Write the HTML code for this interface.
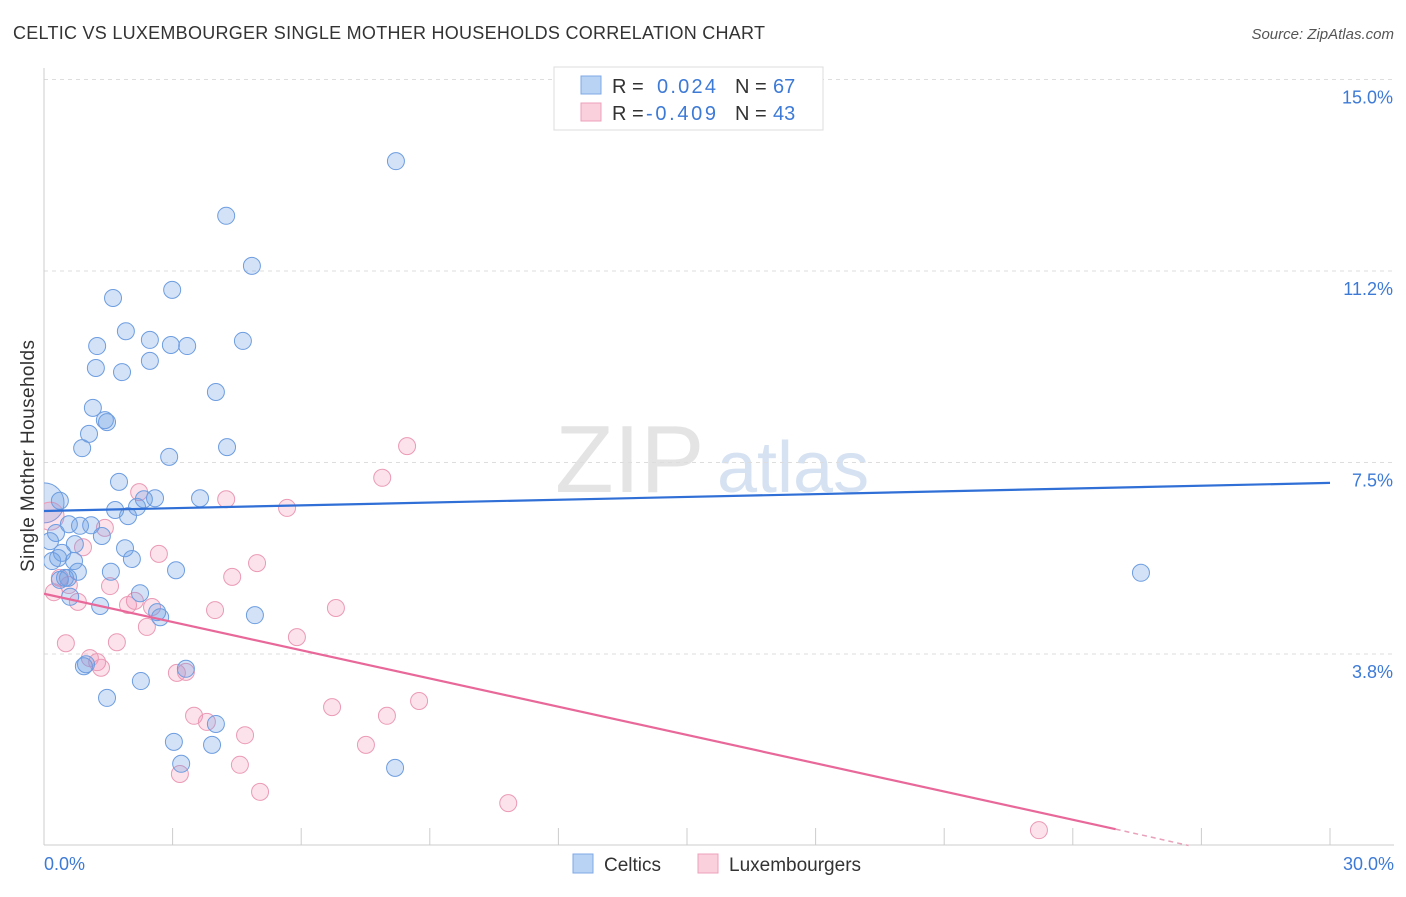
<!DOCTYPE html>
<html><head><meta charset="utf-8"><style>
body{margin:0;background:#fff;font-family:"Liberation Sans",sans-serif;}
svg text{font-family:"Liberation Sans",sans-serif;}
</style></head><body>
<svg id="chart" width="1406" height="892" viewBox="0 0 1406 892" xmlns="http://www.w3.org/2000/svg">
<defs><clipPath id="plotclip"><rect x="44" y="60" width="1360" height="790"/></clipPath></defs>
<text x="13" y="39" font-size="18" fill="#333" textLength="752">CELTIC VS LUXEMBOURGER SINGLE MOTHER HOUSEHOLDS CORRELATION CHART</text>
<text x="1394" y="39" font-size="15" fill="#555" text-anchor="end" font-style="italic">Source: ZipAtlas.com</text>
<g>
<text x="555" y="492" font-size="96" fill="#e4e4e4" font-family="Liberation Serif,serif">ZIP</text>
<text x="717" y="492" font-size="72" fill="#d6e2f2">atlas</text>
</g>
<g id="grid"></g>
<g id="axes"></g>
<g id="marks" clip-path="url(#plotclip)"></g>
<text transform="translate(34,456) rotate(-90)" font-size="19" fill="#333" text-anchor="middle" textLength="232">Single Mother Households</text>
<g>
<rect x="554" y="67" width="269" height="63" fill="#fff" stroke="#ddd"/>
<rect x="581" y="76" width="20" height="18" fill="#b9d3f5" stroke="#7ea8e4"/>
<rect x="581" y="103" width="20" height="18" fill="#fbd0dd" stroke="#eea0ba"/>
<text x="612" y="93" font-size="20" fill="#333">R =</text>
<text x="657" y="93" font-size="20" fill="#3d7ad6" textLength="59">0.024</text>
<text x="735" y="93" font-size="20" fill="#333">N =</text>
<text x="773" y="93" font-size="20" fill="#3d7ad6">67</text>
<text x="612" y="120" font-size="20" fill="#333">R =</text>
<text x="646" y="120" font-size="20" fill="#3d7ad6" textLength="70">-0.409</text>
<text x="735" y="120" font-size="20" fill="#333">N =</text>
<text x="773" y="120" font-size="20" fill="#3d7ad6">43</text>
</g>
<g>
<g><rect x="573" y="854" width="20" height="19" fill="#b9d3f5" stroke="#7ea8e4"/><text x="604" y="871" font-size="19" fill="#333">Celtics</text></g>
<g><rect x="698" y="854" width="20" height="19" fill="#fbd0dd" stroke="#eea0ba"/><text x="729" y="871" font-size="19" fill="#333">Luxembourgers</text></g>
</g>
</svg>
<script>
const yTicks=[3.8,7.5,11.2,15.0];
const yTickValues=[3.75,7.5,11.25,15.0];
const xTickLabels=["0.0%","30.0%"];
const celticX=[8.21,4.25,4.85,1.61,2.99,1.91,1.24,2.47,2.96,3.34,4.64,1.21,1.82,2.47,4.01,1.14,1.42,1.47,1.05,0.89,4.27,2.92,1.75,0.37,2.59,2.33,3.64,2.17,1.66,1.96,0.58,1.10,0.84,1.35,0.28,0.14,0.72,1.89,0.42,0.70,2.05,0.19,0.79,1.56,3.08,0.49,0.56,0.37,2.24,0.61,1.31,2.64,2.71,4.92,0.98,0.93,3.31,2.26,1.47,4.01,3.03,3.92,3.20,8.19,25.59,0.33];
const celticY=[13.40,12.33,11.35,10.72,10.88,10.07,9.78,9.90,9.80,9.78,9.88,9.35,9.27,9.49,8.88,8.57,8.33,8.29,8.06,7.78,7.80,7.61,7.12,6.75,6.80,6.78,6.80,6.63,6.57,6.45,6.29,6.27,6.26,6.06,6.12,5.96,5.90,5.82,5.73,5.57,5.61,5.57,5.36,5.36,5.39,5.24,5.24,5.20,4.94,4.87,4.69,4.57,4.47,4.51,3.55,3.51,3.46,3.22,2.89,2.38,2.03,1.97,1.60,1.52,5.34,5.63];
const celticBig=[0.0,6.71];
const luxX=[8.47,7.89,4.25,5.67,2.22,1.42,0.91,2.68,4.97,4.39,0.37,0.58,1.54,0.23,0.79,1.96,2.12,2.52,3.99,6.81,2.40,5.90,0.51,1.70,1.07,1.24,1.33,3.10,3.31,6.72,3.50,3.80,8.00,8.75,4.69,7.51,4.57,3.17,5.04,10.83,23.21];
const luxY=[7.82,7.20,6.78,6.61,6.92,6.22,5.84,5.71,5.53,5.26,5.24,5.10,5.08,4.96,4.77,4.71,4.79,4.67,4.61,4.65,4.28,4.08,3.96,3.98,3.67,3.59,3.48,3.38,3.40,2.71,2.54,2.42,2.54,2.83,2.16,1.97,1.58,1.40,1.05,0.83,0.30];
const luxBig=[0.14,6.45];
const celticTrend=[[0,6.55],[30,7.10]];
const luxTrend=[[0,4.93],[25,0.32]];
const luxTrendDash=[[25,0.32],[26.7,0.0]];

const NS="http://www.w3.org/2000/svg";
const X=v=>44+v*(1286/30);
const Y=v=>845.5-v*51.07;
function mk(tag,attrs,parent){const e=document.createElementNS(NS,tag);for(const k in attrs)e.setAttribute(k,attrs[k]);parent.appendChild(e);return e;}
const grid=document.getElementById('grid'),axes=document.getElementById('axes'),marks=document.getElementById('marks');
yTickValues.forEach((v,i)=>{
 const l=mk('line',{x1:44,x2:1394,y1:Y(v),y2:Y(v),stroke:'#ddd','stroke-dasharray':'4,4'},grid);
 
 
 const t=mk('text',{x:1393,y:Y(v)+24,'font-size':18,fill:'#3d7ad6','text-anchor':'end'},axes);
 t.textContent=yTicks[i].toFixed(1)+'%';
 
 
});
const yax=mk('line',{x1:44,x2:44,y1:68,y2:845,stroke:'#ccc'},axes);


const xax=mk('line',{x1:44,x2:1394,y1:845,y2:845,stroke:'#ccc'},axes);


for(let i=0;i<=10;i++){
 const tk=mk('line',{x1:X(i*3),x2:X(i*3),y1:828,y2:845,stroke:'#ccc'},axes);
 
 
}
const xl0=mk('text',{x:44,y:870,'font-size':18,fill:'#3d7ad6'},axes);xl0.textContent=xTickLabels[0];


const xl1=mk('text',{x:1394,y:870,'font-size':18,fill:'#3d7ad6','text-anchor':'end'},axes);xl1.textContent=xTickLabels[1];



const bs={fill:'rgba(110,160,230,0.3)',stroke:'#6d9de0','stroke-width':1};
const ps={fill:'rgba(240,140,175,0.25)',stroke:'#eb9ab6','stroke-width':1};
function dot(x,y,r,s,name){const c=mk('circle',Object.assign({cx:X(x),cy:Y(y),r:r},s),marks);
 
 }
dot(celticBig[0],celticBig[1],20,bs,'celtic-point-large');
dot(luxBig[0],luxBig[1],14,ps,'luxembourger-point-large');
luxX.forEach((x,i)=>dot(x,luxY[i],8.5,ps,'luxembourger-point'));
celticX.forEach((x,i)=>dot(x,celticY[i],8.5,bs,'celtic-point'));
const bl=mk('line',{x1:X(celticTrend[0][0]),y1:Y(celticTrend[0][1]),x2:X(celticTrend[1][0]),y2:Y(celticTrend[1][1]),stroke:'#2f6fd6','stroke-width':2.2},marks);


const pl=mk('line',{x1:X(luxTrend[0][0]),y1:Y(luxTrend[0][1]),x2:X(luxTrend[1][0]),y2:Y(luxTrend[1][1]),stroke:'#e8689a','stroke-width':2.2},marks);


const pd=mk('line',{x1:X(luxTrendDash[0][0]),y1:Y(luxTrendDash[0][1]),x2:X(luxTrendDash[1][0]),y2:Y(luxTrendDash[1][1]),stroke:'#e8a0bb','stroke-width':1.5,'stroke-dasharray':'5,4'},marks);


</script>
</body></html>
